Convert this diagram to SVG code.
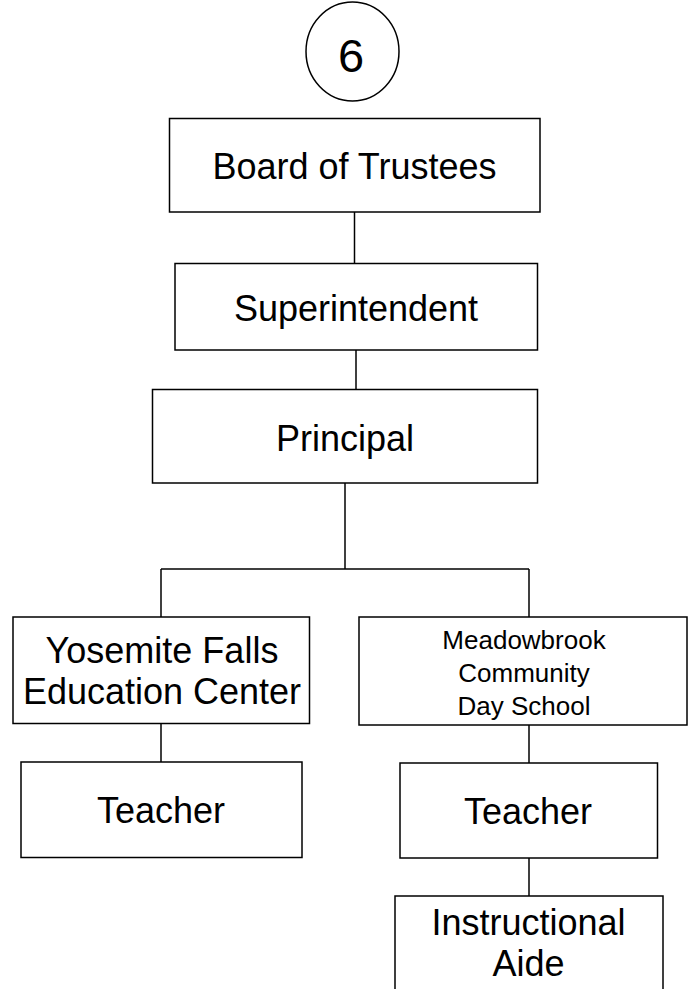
<svg xmlns="http://www.w3.org/2000/svg" width="688" height="989" viewBox="0 0 688 989">
<style>
.box{fill:#fff;stroke:#000;stroke-width:1.5}
.t{font-family:"Liberation Sans",Arial,sans-serif;font-size:36px;fill:#000;text-anchor:middle}
.s{font-family:"Liberation Sans",Arial,sans-serif;font-size:26px;fill:#000;text-anchor:middle}
.c{fill:none;stroke:#000;stroke-width:1.5}
</style>
<rect width="688" height="989" fill="#fff"/>
<g id="connectors" class="c">
<line x1="354.5" y1="212" x2="354.5" y2="263"/>
<line x1="356" y1="350" x2="356" y2="389"/>
<line x1="345" y1="483" x2="345" y2="569"/>
<line x1="161" y1="569" x2="529" y2="569"/>
<line x1="161" y1="569" x2="161" y2="617"/>
<line x1="529" y1="569" x2="529" y2="617"/>
<line x1="161" y1="723" x2="161" y2="762"/>
<line x1="529" y1="725" x2="529" y2="763"/>
<line x1="529" y1="858" x2="529" y2="896"/>
</g>
<g id="page-number">
<ellipse cx="352.5" cy="51.5" rx="46.5" ry="49.5" class="box"/>
<text x="351" y="72" class="t" style="font-size:47px">6</text>
</g>
<g id="board">
<rect x="169.5" y="118.5" width="370.5" height="93.5" class="box"/>
<text x="354.5" y="179" class="t">Board of Trustees</text>
</g>
<g id="superintendent">
<rect x="175" y="263.5" width="362.5" height="86.5" class="box"/>
<text x="356" y="321" class="t">Superintendent</text>
</g>
<g id="principal">
<rect x="152.5" y="389.5" width="385" height="93.5" class="box"/>
<text x="345" y="451" class="t">Principal</text>
</g>
<g id="yosemite">
<rect x="13" y="617" width="296.5" height="106.5" class="box"/>
<text x="162" y="663" class="t">Yosemite Falls</text>
<text x="162" y="704" class="t">Education Center</text>
</g>
<g id="meadowbrook">
<rect x="359" y="617" width="328" height="108" class="box"/>
<text x="524" y="649" class="s">Meadowbrook</text>
<text x="524" y="682" class="s">Community</text>
<text x="524" y="715" class="s">Day School</text>
</g>
<g id="teacher-left">
<rect x="21" y="762" width="281" height="95.5" class="box"/>
<text x="161" y="823" class="t">Teacher</text>
</g>
<g id="teacher-right">
<rect x="400" y="763" width="257.5" height="95" class="box"/>
<text x="528" y="823.5" class="t">Teacher</text>
</g>
<g id="aide">
<rect x="395" y="896" width="268" height="100" class="box"/>
<text x="528.5" y="935" class="t">Instructional</text>
<text x="528.5" y="976" class="t">Aide</text>
</g>
</svg>
